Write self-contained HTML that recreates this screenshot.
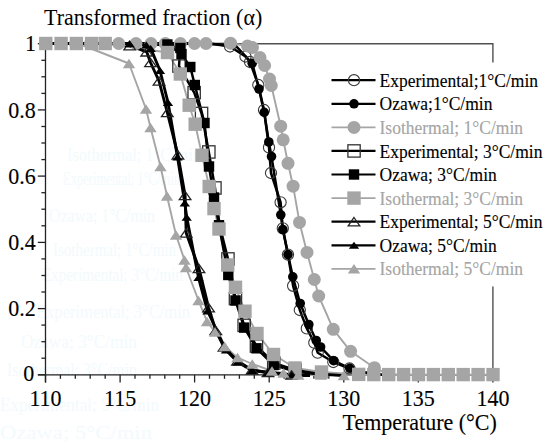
<!DOCTYPE html>
<html><head><meta charset="utf-8"><style>html,body{margin:0;padding:0;background:#fff;width:550px;height:442px;overflow:hidden}svg{display:block}text{font-family:"Liberation Serif",serif}</style></head>
<body><svg width="550" height="442" viewBox="0 0 550 442" font-family="Liberation Serif, serif" font-size="22">
<rect width="550" height="442" fill="#fff"/>
<text x="67" y="161" font-size="18" textLength="134" lengthAdjust="spacingAndGlyphs" fill="#f2fafd">Isothermal; 1°C/min</text><text x="63" y="185" font-size="18" textLength="117" lengthAdjust="spacingAndGlyphs" fill="#f2fafd">Experimental; 1°C/min</text><text x="49" y="222" font-size="18" textLength="106" lengthAdjust="spacingAndGlyphs" fill="#f2fafd">Ozawa; 1°C/min</text><text x="53" y="256" font-size="18" textLength="123" lengthAdjust="spacingAndGlyphs" fill="#f2fafd">Isothermal; 1°C/min</text><text x="42" y="281" font-size="18" textLength="141" lengthAdjust="spacingAndGlyphs" fill="#f2fafd">Experimental; 3°C/min</text><text x="36" y="318" font-size="18" textLength="154" lengthAdjust="spacingAndGlyphs" fill="#f2fafd">Experimental; 3°C/min</text><text x="21" y="348" font-size="18" textLength="116" lengthAdjust="spacingAndGlyphs" fill="#f2fafd">Ozawa; 3°C/min</text><text x="7" y="376" font-size="18" textLength="130" lengthAdjust="spacingAndGlyphs" fill="#f2fafd">Isothermal; 3°C/min</text><text x="0" y="411" font-size="18" textLength="159" lengthAdjust="spacingAndGlyphs" fill="#f2fafd">Experimental; 5°C/min</text><text x="0" y="439" font-size="18" textLength="152" lengthAdjust="spacingAndGlyphs" fill="#f2fafd">Ozawa; 5°C/min</text>
<polyline points="45.5,43.8 492.9,43.8 492.9,374.8" fill="none" stroke="#505050" stroke-width="1.4"/>
<line x1="45.5" y1="43" x2="45.5" y2="382.5" stroke="#222" stroke-width="1.3"/><line x1="38" y1="374.8" x2="493" y2="374.8" stroke="#222" stroke-width="1.3"/><line x1="37.8" y1="374.8" x2="45.5" y2="374.8" stroke="#222" stroke-width="1.3"/><line x1="37.8" y1="308.6" x2="45.5" y2="308.6" stroke="#222" stroke-width="1.3"/><line x1="37.8" y1="242.4" x2="45.5" y2="242.4" stroke="#222" stroke-width="1.3"/><line x1="37.8" y1="176.1" x2="45.5" y2="176.1" stroke="#222" stroke-width="1.3"/><line x1="37.8" y1="109.9" x2="45.5" y2="109.9" stroke="#222" stroke-width="1.3"/><line x1="37.8" y1="43.7" x2="45.5" y2="43.7" stroke="#222" stroke-width="1.3"/><line x1="41.4" y1="358.2" x2="45.5" y2="358.2" stroke="#222" stroke-width="1.3"/><line x1="41.4" y1="341.7" x2="45.5" y2="341.7" stroke="#222" stroke-width="1.3"/><line x1="41.4" y1="325.1" x2="45.5" y2="325.1" stroke="#222" stroke-width="1.3"/><line x1="41.4" y1="292.0" x2="45.5" y2="292.0" stroke="#222" stroke-width="1.3"/><line x1="41.4" y1="275.5" x2="45.5" y2="275.5" stroke="#222" stroke-width="1.3"/><line x1="41.4" y1="258.9" x2="45.5" y2="258.9" stroke="#222" stroke-width="1.3"/><line x1="41.4" y1="225.8" x2="45.5" y2="225.8" stroke="#222" stroke-width="1.3"/><line x1="41.4" y1="209.2" x2="45.5" y2="209.2" stroke="#222" stroke-width="1.3"/><line x1="41.4" y1="192.7" x2="45.5" y2="192.7" stroke="#222" stroke-width="1.3"/><line x1="41.4" y1="159.6" x2="45.5" y2="159.6" stroke="#222" stroke-width="1.3"/><line x1="41.4" y1="143.0" x2="45.5" y2="143.0" stroke="#222" stroke-width="1.3"/><line x1="41.4" y1="126.5" x2="45.5" y2="126.5" stroke="#222" stroke-width="1.3"/><line x1="41.4" y1="93.4" x2="45.5" y2="93.4" stroke="#222" stroke-width="1.3"/><line x1="41.4" y1="76.8" x2="45.5" y2="76.8" stroke="#222" stroke-width="1.3"/><line x1="41.4" y1="60.3" x2="45.5" y2="60.3" stroke="#222" stroke-width="1.3"/><line x1="45.5" y1="374.8" x2="45.5" y2="382.5" stroke="#222" stroke-width="1.3"/><line x1="60.4" y1="374.8" x2="60.4" y2="378.8" stroke="#222" stroke-width="1.3"/><line x1="75.3" y1="374.8" x2="75.3" y2="378.8" stroke="#222" stroke-width="1.3"/><line x1="90.2" y1="374.8" x2="90.2" y2="378.8" stroke="#222" stroke-width="1.3"/><line x1="105.2" y1="374.8" x2="105.2" y2="378.8" stroke="#222" stroke-width="1.3"/><line x1="120.1" y1="374.8" x2="120.1" y2="382.5" stroke="#222" stroke-width="1.3"/><line x1="135.0" y1="374.8" x2="135.0" y2="378.8" stroke="#222" stroke-width="1.3"/><line x1="149.9" y1="374.8" x2="149.9" y2="378.8" stroke="#222" stroke-width="1.3"/><line x1="164.8" y1="374.8" x2="164.8" y2="378.8" stroke="#222" stroke-width="1.3"/><line x1="179.7" y1="374.8" x2="179.7" y2="378.8" stroke="#222" stroke-width="1.3"/><line x1="194.6" y1="374.8" x2="194.6" y2="382.5" stroke="#222" stroke-width="1.3"/><line x1="209.5" y1="374.8" x2="209.5" y2="378.8" stroke="#222" stroke-width="1.3"/><line x1="224.5" y1="374.8" x2="224.5" y2="378.8" stroke="#222" stroke-width="1.3"/><line x1="239.4" y1="374.8" x2="239.4" y2="378.8" stroke="#222" stroke-width="1.3"/><line x1="254.3" y1="374.8" x2="254.3" y2="378.8" stroke="#222" stroke-width="1.3"/><line x1="269.2" y1="374.8" x2="269.2" y2="382.5" stroke="#222" stroke-width="1.3"/><line x1="284.1" y1="374.8" x2="284.1" y2="378.8" stroke="#222" stroke-width="1.3"/><line x1="299.0" y1="374.8" x2="299.0" y2="378.8" stroke="#222" stroke-width="1.3"/><line x1="313.9" y1="374.8" x2="313.9" y2="378.8" stroke="#222" stroke-width="1.3"/><line x1="328.8" y1="374.8" x2="328.8" y2="378.8" stroke="#222" stroke-width="1.3"/><line x1="343.8" y1="374.8" x2="343.8" y2="382.5" stroke="#222" stroke-width="1.3"/><line x1="358.7" y1="374.8" x2="358.7" y2="378.8" stroke="#222" stroke-width="1.3"/><line x1="373.6" y1="374.8" x2="373.6" y2="378.8" stroke="#222" stroke-width="1.3"/><line x1="388.5" y1="374.8" x2="388.5" y2="378.8" stroke="#222" stroke-width="1.3"/><line x1="403.4" y1="374.8" x2="403.4" y2="378.8" stroke="#222" stroke-width="1.3"/><line x1="418.3" y1="374.8" x2="418.3" y2="382.5" stroke="#222" stroke-width="1.3"/><line x1="433.2" y1="374.8" x2="433.2" y2="378.8" stroke="#222" stroke-width="1.3"/><line x1="448.2" y1="374.8" x2="448.2" y2="378.8" stroke="#222" stroke-width="1.3"/><line x1="463.1" y1="374.8" x2="463.1" y2="378.8" stroke="#222" stroke-width="1.3"/><line x1="478.0" y1="374.8" x2="478.0" y2="378.8" stroke="#222" stroke-width="1.3"/><line x1="492.9" y1="374.8" x2="492.9" y2="382.5" stroke="#222" stroke-width="1.3"/>
<polyline points="45.8,43.5 60.7,43.5 75.6,43.5 90.5,43.5 105.4,43.5 118.7,43.5 136.0,43.5 151.0,43.5 165.3,43.5 180.4,43.5 194.5,43.5 206.0,43.5 230.5,43.2 247.5,46.0 252.5,47.5 260.0,57.6 264.6,65.5 269.5,79.0 271.3,85.5 280.7,126.2 283.2,139.8 288.0,163.3 293.1,186.2 299.5,222.4 307.0,252.4 314.3,279.5 318.7,296.0 333.3,329.3 350.6,351.3 374.4,367.7 389.0,374.6 404.0,374.6" fill="none" stroke="#a5a5a5" stroke-width="1.9" stroke-linejoin="round"/><polyline points="45.8,43.5 61.1,43.5 76.4,43.5 91.6,43.5 105.2,43.5 167.5,52.5 180.3,74.0 189.2,105.2 195.2,124.2 202.0,155.3 209.2,186.5 214.0,208.6 219.0,229.0 227.7,265.0 235.5,287.3 245.0,311.2 257.0,333.5 273.5,354.5 295.0,368.0 321.5,372.0 358.7,374.4 373.8,374.6 388.7,374.6 403.6,374.6 418.5,374.6 433.4,374.6 448.3,374.6 463.2,374.6 478.1,374.6 493.0,374.6" fill="none" stroke="#a5a5a5" stroke-width="1.9" stroke-linejoin="round"/><polyline points="78.0,43.5 129.0,63.5 146.0,109.0 150.5,127.5 160.5,166.5 167.0,196.0 176.0,235.0 184.5,260.0 186.0,267.5 198.5,300.5 207.0,321.5 215.0,332.0 224.7,346.5 237.5,357.5 252.3,364.0 272.0,371.0 283.5,373.0 298.3,375.0 321.0,375.0 343.8,375.5" fill="none" stroke="#a5a5a5" stroke-width="1.9" stroke-linejoin="round"/><polyline points="45.8,43.5 60.7,43.5 75.6,43.5 90.5,43.5 105.4,43.5 120.3,43.5 135.2,43.5 150.1,43.5 165.0,43.5 179.9,43.5 194.8,43.5 209.7,43.6 230.0,46.5 245.5,56.5 250.0,62.0 258.3,85.0 264.0,110.0 269.0,147.4 271.0,173.0 280.6,202.3 282.8,228.3 288.0,254.6 293.1,285.8 299.8,310.0 306.8,328.4 314.3,342.7 317.7,352.7 333.3,362.0 349.5,368.5 365.0,372.5 380.0,374.5 395.0,375.5" fill="none" stroke="#000" stroke-width="2.5" stroke-linejoin="round"/><polyline points="45.8,43.5 60.7,43.5 75.6,43.5 90.5,43.5 105.4,43.5 120.3,43.5 135.2,43.5 150.1,43.5 165.0,43.5 179.9,43.5 194.8,43.5 209.7,44.0 224.6,44.5 236.3,46.3 252.2,63.3 259.0,89.0 264.2,112.4 268.8,142.0 271.5,156.5 280.8,214.8 282.8,229.5 288.0,254.6 292.8,276.8 300.2,303.5 308.8,324.5 316.2,340.5 320.6,347.0 333.6,360.7 349.8,368.3 365.0,372.5 380.0,374.5 395.0,375.5" fill="none" stroke="#000" stroke-width="2.5" stroke-linejoin="round"/><polyline points="45.8,43.5 60.7,43.5 75.6,43.5 90.5,43.5 105.4,43.5 120.3,43.5 135.2,43.5 150.1,43.5 167.0,46.0 180.0,52.0 179.0,66.0 194.2,92.7 201.6,113.5 208.8,152.0 215.0,188.0 219.5,225.0 228.0,259.0 235.5,298.5 244.2,325.3 256.5,346.0 273.7,363.0 295.0,370.0 320.0,374.0 345.0,375.5" fill="none" stroke="#000" stroke-width="2.5" stroke-linejoin="round"/><polyline points="45.8,43.5 60.7,43.5 75.6,43.5 90.5,43.5 105.4,43.5 120.3,43.5 135.2,43.5 150.1,43.5 167.4,44.5 180.4,48.0 181.5,54.0 190.3,67.0 194.8,85.0 204.5,123.0 209.0,166.5 214.0,197.5 219.0,225.2 228.3,275.0 235.5,300.5 244.2,327.6 256.5,348.3 273.7,365.0 295.0,371.5 320.0,374.5 345.0,375.5" fill="none" stroke="#000" stroke-width="2.5" stroke-linejoin="round"/><polyline points="129.7,45.7 146.7,51.8 150.5,62.5 159.0,81.0 167.3,112.5 177.9,154.8 185.1,195.5 186.2,233.0 199.0,268.5 208.6,307.6 215.8,330.5 224.0,347.0 237.5,361.0 252.0,370.0 268.0,372.5 291.6,375.0 310.0,375.5" fill="none" stroke="#000" stroke-width="2.9" stroke-linejoin="round"/><polyline points="129.5,43.8 146.3,45.1 150.7,48.4 160.0,70.5 168.0,102.5 177.5,157.0 184.8,203.0 186.7,217.3 198.5,277.5 207.5,311.0 226.0,350.0 237.5,362.0 252.0,370.5 268.0,372.5 291.7,375.0 310.0,375.5" fill="none" stroke="#000" stroke-width="2.9" stroke-linejoin="round"/><circle cx="230.0" cy="46.5" r="5.6" fill="none" stroke="#3a3a3a" stroke-width="1.1"/><circle cx="245.5" cy="56.5" r="5.6" fill="none" stroke="#3a3a3a" stroke-width="1.1"/><circle cx="250.0" cy="62.0" r="5.6" fill="none" stroke="#3a3a3a" stroke-width="1.1"/><circle cx="258.3" cy="85.0" r="5.6" fill="none" stroke="#3a3a3a" stroke-width="1.1"/><circle cx="264.0" cy="110.0" r="5.6" fill="none" stroke="#3a3a3a" stroke-width="1.1"/><circle cx="269.0" cy="147.4" r="5.6" fill="none" stroke="#3a3a3a" stroke-width="1.1"/><circle cx="271.0" cy="173.0" r="5.6" fill="none" stroke="#3a3a3a" stroke-width="1.1"/><circle cx="280.6" cy="202.3" r="5.6" fill="none" stroke="#3a3a3a" stroke-width="1.1"/><circle cx="282.8" cy="228.3" r="5.6" fill="none" stroke="#3a3a3a" stroke-width="1.1"/><circle cx="288.0" cy="254.6" r="5.6" fill="none" stroke="#3a3a3a" stroke-width="1.1"/><circle cx="293.1" cy="285.8" r="5.6" fill="none" stroke="#3a3a3a" stroke-width="1.1"/><circle cx="299.8" cy="310.0" r="5.6" fill="none" stroke="#3a3a3a" stroke-width="1.1"/><circle cx="306.8" cy="328.4" r="5.6" fill="none" stroke="#3a3a3a" stroke-width="1.1"/><circle cx="314.3" cy="342.7" r="5.6" fill="none" stroke="#3a3a3a" stroke-width="1.1"/><circle cx="317.7" cy="352.7" r="5.6" fill="none" stroke="#3a3a3a" stroke-width="1.1"/><circle cx="333.3" cy="362.0" r="5.6" fill="none" stroke="#3a3a3a" stroke-width="1.1"/><circle cx="349.5" cy="368.5" r="5.6" fill="none" stroke="#3a3a3a" stroke-width="1.1"/><circle cx="252.2" cy="63.3" r="4.8" fill="#000" stroke="none" stroke-width="0"/><circle cx="259.0" cy="89.0" r="4.8" fill="#000" stroke="none" stroke-width="0"/><circle cx="264.2" cy="112.4" r="4.8" fill="#000" stroke="none" stroke-width="0"/><circle cx="268.8" cy="142.0" r="4.8" fill="#000" stroke="none" stroke-width="0"/><circle cx="271.5" cy="156.5" r="4.8" fill="#000" stroke="none" stroke-width="0"/><circle cx="280.8" cy="214.8" r="4.8" fill="#000" stroke="none" stroke-width="0"/><circle cx="282.8" cy="229.5" r="4.8" fill="#000" stroke="none" stroke-width="0"/><circle cx="288.0" cy="254.6" r="4.8" fill="#000" stroke="none" stroke-width="0"/><circle cx="292.8" cy="276.8" r="4.8" fill="#000" stroke="none" stroke-width="0"/><circle cx="300.2" cy="303.5" r="4.8" fill="#000" stroke="none" stroke-width="0"/><circle cx="308.8" cy="324.5" r="4.8" fill="#000" stroke="none" stroke-width="0"/><circle cx="316.2" cy="340.5" r="4.8" fill="#000" stroke="none" stroke-width="0"/><circle cx="320.6" cy="347.0" r="4.8" fill="#000" stroke="none" stroke-width="0"/><circle cx="333.6" cy="360.7" r="4.8" fill="#000" stroke="none" stroke-width="0"/><circle cx="349.8" cy="368.3" r="4.8" fill="#000" stroke="none" stroke-width="0"/><circle cx="45.8" cy="43.5" r="6.5" fill="#a5a5a5" stroke="none" stroke-width="0"/><circle cx="60.7" cy="43.5" r="6.5" fill="#a5a5a5" stroke="none" stroke-width="0"/><circle cx="75.6" cy="43.5" r="6.5" fill="#a5a5a5" stroke="none" stroke-width="0"/><circle cx="90.5" cy="43.5" r="6.5" fill="#a5a5a5" stroke="none" stroke-width="0"/><circle cx="105.4" cy="43.5" r="6.5" fill="#a5a5a5" stroke="none" stroke-width="0"/><circle cx="118.7" cy="43.5" r="6.5" fill="#a5a5a5" stroke="none" stroke-width="0"/><circle cx="136.0" cy="43.5" r="6.5" fill="#a5a5a5" stroke="none" stroke-width="0"/><circle cx="151.0" cy="43.5" r="6.5" fill="#a5a5a5" stroke="none" stroke-width="0"/><circle cx="165.3" cy="43.5" r="6.5" fill="#a5a5a5" stroke="none" stroke-width="0"/><circle cx="180.4" cy="43.5" r="6.5" fill="#a5a5a5" stroke="none" stroke-width="0"/><circle cx="194.5" cy="43.5" r="6.5" fill="#a5a5a5" stroke="none" stroke-width="0"/><circle cx="206.0" cy="43.5" r="6.5" fill="#a5a5a5" stroke="none" stroke-width="0"/><circle cx="230.5" cy="43.2" r="6.5" fill="#a5a5a5" stroke="none" stroke-width="0"/><circle cx="247.5" cy="46.0" r="6.5" fill="#a5a5a5" stroke="none" stroke-width="0"/><circle cx="252.5" cy="47.5" r="6.5" fill="#a5a5a5" stroke="none" stroke-width="0"/><circle cx="260.0" cy="57.6" r="6.5" fill="#a5a5a5" stroke="none" stroke-width="0"/><circle cx="264.6" cy="65.5" r="6.5" fill="#a5a5a5" stroke="none" stroke-width="0"/><circle cx="269.5" cy="79.0" r="6.5" fill="#a5a5a5" stroke="none" stroke-width="0"/><circle cx="271.3" cy="85.5" r="6.5" fill="#a5a5a5" stroke="none" stroke-width="0"/><circle cx="280.7" cy="126.2" r="6.5" fill="#a5a5a5" stroke="none" stroke-width="0"/><circle cx="283.2" cy="139.8" r="6.5" fill="#a5a5a5" stroke="none" stroke-width="0"/><circle cx="288.0" cy="163.3" r="6.5" fill="#a5a5a5" stroke="none" stroke-width="0"/><circle cx="293.1" cy="186.2" r="6.5" fill="#a5a5a5" stroke="none" stroke-width="0"/><circle cx="299.5" cy="222.4" r="6.5" fill="#a5a5a5" stroke="none" stroke-width="0"/><circle cx="307.0" cy="252.4" r="6.5" fill="#a5a5a5" stroke="none" stroke-width="0"/><circle cx="314.3" cy="279.5" r="6.5" fill="#a5a5a5" stroke="none" stroke-width="0"/><circle cx="318.7" cy="296.0" r="6.5" fill="#a5a5a5" stroke="none" stroke-width="0"/><circle cx="333.3" cy="329.3" r="6.5" fill="#a5a5a5" stroke="none" stroke-width="0"/><circle cx="350.6" cy="351.3" r="6.5" fill="#a5a5a5" stroke="none" stroke-width="0"/><circle cx="374.4" cy="367.7" r="6.5" fill="#a5a5a5" stroke="none" stroke-width="0"/><rect x="172.8" y="59.9" width="12.3" height="12.3" fill="none" stroke="#333" stroke-width="1.3"/><rect x="188.0" y="86.5" width="12.3" height="12.3" fill="none" stroke="#333" stroke-width="1.3"/><rect x="195.4" y="107.3" width="12.3" height="12.3" fill="none" stroke="#333" stroke-width="1.3"/><rect x="202.7" y="145.8" width="12.3" height="12.3" fill="none" stroke="#333" stroke-width="1.3"/><rect x="208.8" y="181.8" width="12.3" height="12.3" fill="none" stroke="#333" stroke-width="1.3"/><rect x="221.8" y="252.8" width="12.3" height="12.3" fill="none" stroke="#333" stroke-width="1.3"/><rect x="229.3" y="292.4" width="12.3" height="12.3" fill="none" stroke="#333" stroke-width="1.3"/><rect x="238.0" y="319.2" width="12.3" height="12.3" fill="none" stroke="#333" stroke-width="1.3"/><rect x="250.3" y="339.9" width="12.3" height="12.3" fill="none" stroke="#333" stroke-width="1.3"/><rect x="267.6" y="356.9" width="12.3" height="12.3" fill="none" stroke="#333" stroke-width="1.3"/><rect x="288.9" y="363.9" width="12.3" height="12.3" fill="none" stroke="#333" stroke-width="1.3"/><rect x="162.2" y="39.3" width="10.4" height="10.4" fill="#000" stroke="none" stroke-width="0"/><rect x="175.2" y="42.8" width="10.4" height="10.4" fill="#000" stroke="none" stroke-width="0"/><rect x="176.3" y="48.8" width="10.4" height="10.4" fill="#000" stroke="none" stroke-width="0"/><rect x="185.1" y="61.8" width="10.4" height="10.4" fill="#000" stroke="none" stroke-width="0"/><rect x="189.6" y="79.8" width="10.4" height="10.4" fill="#000" stroke="none" stroke-width="0"/><rect x="199.3" y="117.8" width="10.4" height="10.4" fill="#000" stroke="none" stroke-width="0"/><rect x="203.8" y="161.3" width="10.4" height="10.4" fill="#000" stroke="none" stroke-width="0"/><rect x="208.8" y="192.3" width="10.4" height="10.4" fill="#000" stroke="none" stroke-width="0"/><rect x="213.8" y="220.0" width="10.4" height="10.4" fill="#000" stroke="none" stroke-width="0"/><rect x="223.1" y="269.8" width="10.4" height="10.4" fill="#000" stroke="none" stroke-width="0"/><rect x="230.3" y="295.3" width="10.4" height="10.4" fill="#000" stroke="none" stroke-width="0"/><rect x="239.0" y="322.4" width="10.4" height="10.4" fill="#000" stroke="none" stroke-width="0"/><rect x="251.3" y="343.1" width="10.4" height="10.4" fill="#000" stroke="none" stroke-width="0"/><rect x="268.5" y="359.8" width="10.4" height="10.4" fill="#000" stroke="none" stroke-width="0"/><rect x="289.8" y="366.3" width="10.4" height="10.4" fill="#000" stroke="none" stroke-width="0"/><rect x="39.1" y="36.8" width="13.4" height="13.4" fill="#a5a5a5" stroke="none" stroke-width="0"/><rect x="54.4" y="36.8" width="13.4" height="13.4" fill="#a5a5a5" stroke="none" stroke-width="0"/><rect x="69.7" y="36.8" width="13.4" height="13.4" fill="#a5a5a5" stroke="none" stroke-width="0"/><rect x="84.9" y="36.8" width="13.4" height="13.4" fill="#a5a5a5" stroke="none" stroke-width="0"/><rect x="98.5" y="36.8" width="13.4" height="13.4" fill="#a5a5a5" stroke="none" stroke-width="0"/><rect x="160.8" y="45.8" width="13.4" height="13.4" fill="#a5a5a5" stroke="none" stroke-width="0"/><rect x="173.6" y="67.3" width="13.4" height="13.4" fill="#a5a5a5" stroke="none" stroke-width="0"/><rect x="182.5" y="98.5" width="13.4" height="13.4" fill="#a5a5a5" stroke="none" stroke-width="0"/><rect x="188.5" y="117.5" width="13.4" height="13.4" fill="#a5a5a5" stroke="none" stroke-width="0"/><rect x="195.3" y="148.6" width="13.4" height="13.4" fill="#a5a5a5" stroke="none" stroke-width="0"/><rect x="202.5" y="179.8" width="13.4" height="13.4" fill="#a5a5a5" stroke="none" stroke-width="0"/><rect x="207.3" y="201.9" width="13.4" height="13.4" fill="#a5a5a5" stroke="none" stroke-width="0"/><rect x="212.3" y="222.3" width="13.4" height="13.4" fill="#a5a5a5" stroke="none" stroke-width="0"/><rect x="221.0" y="258.3" width="13.4" height="13.4" fill="#a5a5a5" stroke="none" stroke-width="0"/><rect x="228.8" y="280.6" width="13.4" height="13.4" fill="#a5a5a5" stroke="none" stroke-width="0"/><rect x="238.3" y="304.5" width="13.4" height="13.4" fill="#a5a5a5" stroke="none" stroke-width="0"/><rect x="250.3" y="326.8" width="13.4" height="13.4" fill="#a5a5a5" stroke="none" stroke-width="0"/><rect x="266.8" y="347.8" width="13.4" height="13.4" fill="#a5a5a5" stroke="none" stroke-width="0"/><rect x="288.3" y="361.3" width="13.4" height="13.4" fill="#a5a5a5" stroke="none" stroke-width="0"/><rect x="314.8" y="365.3" width="13.4" height="13.4" fill="#a5a5a5" stroke="none" stroke-width="0"/><rect x="352.0" y="367.7" width="13.4" height="13.4" fill="#a5a5a5" stroke="none" stroke-width="0"/><rect x="367.1" y="367.9" width="13.4" height="13.4" fill="#a5a5a5" stroke="none" stroke-width="0"/><rect x="382.0" y="367.9" width="13.4" height="13.4" fill="#a5a5a5" stroke="none" stroke-width="0"/><rect x="396.9" y="367.9" width="13.4" height="13.4" fill="#a5a5a5" stroke="none" stroke-width="0"/><rect x="411.8" y="367.9" width="13.4" height="13.4" fill="#a5a5a5" stroke="none" stroke-width="0"/><rect x="426.7" y="367.9" width="13.4" height="13.4" fill="#a5a5a5" stroke="none" stroke-width="0"/><rect x="441.6" y="367.9" width="13.4" height="13.4" fill="#a5a5a5" stroke="none" stroke-width="0"/><rect x="456.5" y="367.9" width="13.4" height="13.4" fill="#a5a5a5" stroke="none" stroke-width="0"/><rect x="471.4" y="367.9" width="13.4" height="13.4" fill="#a5a5a5" stroke="none" stroke-width="0"/><rect x="486.3" y="367.9" width="13.4" height="13.4" fill="#a5a5a5" stroke="none" stroke-width="0"/><polygon points="129.7,41.5 135.5,49.9 123.9,49.9" fill="none" stroke="#222" stroke-width="1.3" stroke-linejoin="miter"/><polygon points="146.7,47.6 152.5,56.0 140.9,56.0" fill="none" stroke="#222" stroke-width="1.3" stroke-linejoin="miter"/><polygon points="150.5,58.3 156.3,66.7 144.7,66.7" fill="none" stroke="#222" stroke-width="1.3" stroke-linejoin="miter"/><polygon points="159.0,76.8 164.8,85.2 153.2,85.2" fill="none" stroke="#222" stroke-width="1.3" stroke-linejoin="miter"/><polygon points="167.3,108.3 173.1,116.7 161.5,116.7" fill="none" stroke="#222" stroke-width="1.3" stroke-linejoin="miter"/><polygon points="177.9,150.6 183.7,159.0 172.1,159.0" fill="none" stroke="#222" stroke-width="1.3" stroke-linejoin="miter"/><polygon points="185.1,191.3 190.9,199.7 179.3,199.7" fill="none" stroke="#222" stroke-width="1.3" stroke-linejoin="miter"/><polygon points="186.2,228.8 192.0,237.2 180.4,237.2" fill="none" stroke="#222" stroke-width="1.3" stroke-linejoin="miter"/><polygon points="199.0,264.3 204.8,272.7 193.2,272.7" fill="none" stroke="#222" stroke-width="1.3" stroke-linejoin="miter"/><polygon points="208.6,303.4 214.4,311.8 202.8,311.8" fill="none" stroke="#222" stroke-width="1.3" stroke-linejoin="miter"/><polygon points="215.8,326.3 221.6,334.7 210.0,334.7" fill="none" stroke="#222" stroke-width="1.3" stroke-linejoin="miter"/><polygon points="224.0,342.8 229.8,351.2 218.2,351.2" fill="none" stroke="#222" stroke-width="1.3" stroke-linejoin="miter"/><polygon points="237.5,356.8 243.3,365.2 231.7,365.2" fill="none" stroke="#222" stroke-width="1.3" stroke-linejoin="miter"/><polygon points="252.0,365.8 257.8,374.2 246.2,374.2" fill="none" stroke="#222" stroke-width="1.3" stroke-linejoin="miter"/><polygon points="268.0,368.3 273.8,376.7 262.2,376.7" fill="none" stroke="#222" stroke-width="1.3" stroke-linejoin="miter"/><polygon points="291.6,370.8 297.4,379.2 285.8,379.2" fill="none" stroke="#222" stroke-width="1.3" stroke-linejoin="miter"/><polygon points="129.5,40.3 134.7,47.3 124.3,47.3" fill="#000" stroke="none" stroke-width="0" stroke-linejoin="miter"/><polygon points="146.3,41.6 151.5,48.6 141.1,48.6" fill="#000" stroke="none" stroke-width="0" stroke-linejoin="miter"/><polygon points="150.7,44.9 155.9,51.9 145.5,51.9" fill="#000" stroke="none" stroke-width="0" stroke-linejoin="miter"/><polygon points="160.0,67.0 165.2,74.0 154.8,74.0" fill="#000" stroke="none" stroke-width="0" stroke-linejoin="miter"/><polygon points="168.0,99.0 173.2,106.0 162.8,106.0" fill="#000" stroke="none" stroke-width="0" stroke-linejoin="miter"/><polygon points="177.5,153.5 182.7,160.5 172.3,160.5" fill="#000" stroke="none" stroke-width="0" stroke-linejoin="miter"/><polygon points="184.8,199.5 190.0,206.5 179.6,206.5" fill="#000" stroke="none" stroke-width="0" stroke-linejoin="miter"/><polygon points="186.7,213.8 191.9,220.8 181.5,220.8" fill="#000" stroke="none" stroke-width="0" stroke-linejoin="miter"/><polygon points="198.5,274.0 203.7,281.0 193.3,281.0" fill="#000" stroke="none" stroke-width="0" stroke-linejoin="miter"/><polygon points="207.5,307.5 212.7,314.5 202.3,314.5" fill="#000" stroke="none" stroke-width="0" stroke-linejoin="miter"/><polygon points="226.0,346.5 231.2,353.5 220.8,353.5" fill="#000" stroke="none" stroke-width="0" stroke-linejoin="miter"/><polygon points="237.5,358.5 242.7,365.5 232.3,365.5" fill="#000" stroke="none" stroke-width="0" stroke-linejoin="miter"/><polygon points="252.0,367.0 257.2,374.0 246.8,374.0" fill="#000" stroke="none" stroke-width="0" stroke-linejoin="miter"/><polygon points="268.0,369.0 273.2,376.0 262.8,376.0" fill="#000" stroke="none" stroke-width="0" stroke-linejoin="miter"/><polygon points="291.7,371.5 296.9,378.5 286.5,378.5" fill="#000" stroke="none" stroke-width="0" stroke-linejoin="miter"/><polygon points="129.0,58.8 135.2,68.2 122.8,68.2" fill="#a5a5a5" stroke="none" stroke-width="0" stroke-linejoin="miter"/><polygon points="146.0,104.3 152.2,113.7 139.8,113.7" fill="#a5a5a5" stroke="none" stroke-width="0" stroke-linejoin="miter"/><polygon points="150.5,122.8 156.7,132.2 144.3,132.2" fill="#a5a5a5" stroke="none" stroke-width="0" stroke-linejoin="miter"/><polygon points="160.5,161.8 166.7,171.2 154.3,171.2" fill="#a5a5a5" stroke="none" stroke-width="0" stroke-linejoin="miter"/><polygon points="167.0,191.3 173.2,200.7 160.8,200.7" fill="#a5a5a5" stroke="none" stroke-width="0" stroke-linejoin="miter"/><polygon points="176.0,230.3 182.2,239.7 169.8,239.7" fill="#a5a5a5" stroke="none" stroke-width="0" stroke-linejoin="miter"/><polygon points="184.5,255.3 190.7,264.7 178.3,264.7" fill="#a5a5a5" stroke="none" stroke-width="0" stroke-linejoin="miter"/><polygon points="186.0,262.8 192.2,272.2 179.8,272.2" fill="#a5a5a5" stroke="none" stroke-width="0" stroke-linejoin="miter"/><polygon points="198.5,295.8 204.7,305.2 192.3,305.2" fill="#a5a5a5" stroke="none" stroke-width="0" stroke-linejoin="miter"/><polygon points="207.0,316.8 213.2,326.2 200.8,326.2" fill="#a5a5a5" stroke="none" stroke-width="0" stroke-linejoin="miter"/><polygon points="215.0,327.3 221.2,336.7 208.8,336.7" fill="#a5a5a5" stroke="none" stroke-width="0" stroke-linejoin="miter"/><polygon points="224.7,341.8 230.9,351.2 218.5,351.2" fill="#a5a5a5" stroke="none" stroke-width="0" stroke-linejoin="miter"/><polygon points="237.5,352.8 243.7,362.2 231.3,362.2" fill="#a5a5a5" stroke="none" stroke-width="0" stroke-linejoin="miter"/><polygon points="252.3,359.3 258.5,368.7 246.1,368.7" fill="#a5a5a5" stroke="none" stroke-width="0" stroke-linejoin="miter"/><polygon points="272.0,366.3 278.2,375.7 265.8,375.7" fill="#a5a5a5" stroke="none" stroke-width="0" stroke-linejoin="miter"/><polygon points="283.5,368.3 289.7,377.7 277.3,377.7" fill="#a5a5a5" stroke="none" stroke-width="0" stroke-linejoin="miter"/><polygon points="298.3,370.3 304.5,379.7 292.1,379.7" fill="#a5a5a5" stroke="none" stroke-width="0" stroke-linejoin="miter"/><polygon points="321.0,370.3 327.2,379.7 314.8,379.7" fill="#a5a5a5" stroke="none" stroke-width="0" stroke-linejoin="miter"/><polygon points="343.8,370.8 350.0,380.2 337.6,380.2" fill="#a5a5a5" stroke="none" stroke-width="0" stroke-linejoin="miter"/>
<rect x="326" y="62.5" width="224" height="224" fill="#fff"/><line x1="331.5" y1="80.2" x2="375.5" y2="80.2" stroke="#000" stroke-width="2.2"/><circle cx="354.0" cy="80.2" r="5.6" fill="none" stroke="#3a3a3a" stroke-width="1.1"/><text stroke-width="0.12" transform="translate(379.5,86.8) scale(1,1.08)" font-size="17.5" fill="#000" stroke="#000">Experimental;1°C/min</text><line x1="331.5" y1="103.8" x2="375.5" y2="103.8" stroke="#000" stroke-width="2.2"/><circle cx="354.0" cy="103.8" r="4.8" fill="#000" stroke="none" stroke-width="0"/><text stroke-width="0.12" transform="translate(379.5,110.4) scale(1,1.08)" font-size="17.5" fill="#000" stroke="#000">Ozawa;1°C/min</text><line x1="331.5" y1="127.4" x2="375.5" y2="127.4" stroke="#a5a5a5" stroke-width="1.8"/><circle cx="354.0" cy="127.4" r="6.5" fill="#a5a5a5" stroke="none" stroke-width="0"/><text stroke-width="0.12" transform="translate(379.5,134.0) scale(1,1.08)" font-size="17.5" fill="#a5a5a5" stroke="#a5a5a5">Isothermal; 1°C/min</text><line x1="331.5" y1="150.9" x2="375.5" y2="150.9" stroke="#000" stroke-width="2.2"/><rect x="347.9" y="144.8" width="12.3" height="12.3" fill="none" stroke="#333" stroke-width="1.3"/><text stroke-width="0.12" transform="translate(379.5,157.5) scale(1,1.08)" font-size="17.5" fill="#000" stroke="#000">Experimental; 3°C/min</text><line x1="331.5" y1="174.5" x2="375.5" y2="174.5" stroke="#000" stroke-width="2.2"/><rect x="348.8" y="169.3" width="10.4" height="10.4" fill="#000" stroke="none" stroke-width="0"/><text stroke-width="0.12" transform="translate(379.5,181.1) scale(1,1.08)" font-size="17.5" fill="#000" stroke="#000">Ozawa; 3°C/min</text><line x1="331.5" y1="198.1" x2="375.5" y2="198.1" stroke="#a5a5a5" stroke-width="1.8"/><rect x="347.3" y="191.4" width="13.4" height="13.4" fill="#a5a5a5" stroke="none" stroke-width="0"/><text stroke-width="0.12" transform="translate(379.5,204.7) scale(1,1.08)" font-size="17.5" fill="#a5a5a5" stroke="#a5a5a5">Isothermal; 3°C/min</text><line x1="331.5" y1="221.7" x2="375.5" y2="221.7" stroke="#000" stroke-width="2.2"/><polygon points="354.0,217.5 359.8,225.9 348.2,225.9" fill="none" stroke="#222" stroke-width="1.3" stroke-linejoin="miter"/><text stroke-width="0.12" transform="translate(379.5,228.3) scale(1,1.08)" font-size="17.5" fill="#000" stroke="#000">Experimental; 5°C/min</text><line x1="331.5" y1="245.3" x2="375.5" y2="245.3" stroke="#000" stroke-width="2.2"/><polygon points="354.0,241.8 359.2,248.8 348.8,248.8" fill="#000" stroke="none" stroke-width="0" stroke-linejoin="miter"/><text stroke-width="0.12" transform="translate(379.5,251.9) scale(1,1.08)" font-size="17.5" fill="#000" stroke="#000">Ozawa; 5°C/min</text><line x1="331.5" y1="268.8" x2="375.5" y2="268.8" stroke="#a5a5a5" stroke-width="1.8"/><polygon points="354.0,264.1 360.2,273.5 347.8,273.5" fill="#a5a5a5" stroke="none" stroke-width="0" stroke-linejoin="miter"/><text stroke-width="0.12" transform="translate(379.5,275.4) scale(1,1.08)" font-size="17.5" fill="#a5a5a5" stroke="#a5a5a5">Isothermal; 5°C/min</text>
<text stroke-width="0.12" transform="translate(34.2,380.7) scale(1,1.08)" text-anchor="end" stroke="#000">0</text><text stroke-width="0.12" transform="translate(35.7,316.3) scale(1,1.08)" text-anchor="end" stroke="#000">0.2</text><text stroke-width="0.12" transform="translate(35.7,250.1) scale(1,1.08)" text-anchor="end" stroke="#000">0.4</text><text stroke-width="0.12" transform="translate(35.7,183.9) scale(1,1.08)" text-anchor="end" stroke="#000">0.6</text><text stroke-width="0.12" transform="translate(35.7,117.7) scale(1,1.08)" text-anchor="end" stroke="#000">0.8</text><text stroke-width="0.12" transform="translate(36.0,50.6) scale(1,1.08)" text-anchor="end" stroke="#000">1</text><text stroke-width="0.12" transform="translate(45.5,405.8) scale(1,1.08)" text-anchor="middle" stroke="#000">110</text><text stroke-width="0.12" transform="translate(120.1,405.8) scale(1,1.08)" text-anchor="middle" stroke="#000">115</text><text stroke-width="0.12" transform="translate(194.6,405.8) scale(1,1.08)" text-anchor="middle" stroke="#000">120</text><text stroke-width="0.12" transform="translate(269.2,405.8) scale(1,1.08)" text-anchor="middle" stroke="#000">125</text><text stroke-width="0.12" transform="translate(343.8,405.8) scale(1,1.08)" text-anchor="middle" stroke="#000">130</text><text stroke-width="0.12" transform="translate(418.3,405.8) scale(1,1.08)" text-anchor="middle" stroke="#000">135</text><text stroke-width="0.12" transform="translate(492.9,405.8) scale(1,1.08)" text-anchor="middle" stroke="#000">140</text>
<text stroke-width="0" transform="translate(44.0,24.6) scale(1,1.08)" stroke="#000">Transformed fraction (α)</text>
<text stroke-width="0.12" transform="translate(342.5,430.0) scale(1,1.08)" stroke="#000">Temperature (°C)</text>
</svg></body></html>
